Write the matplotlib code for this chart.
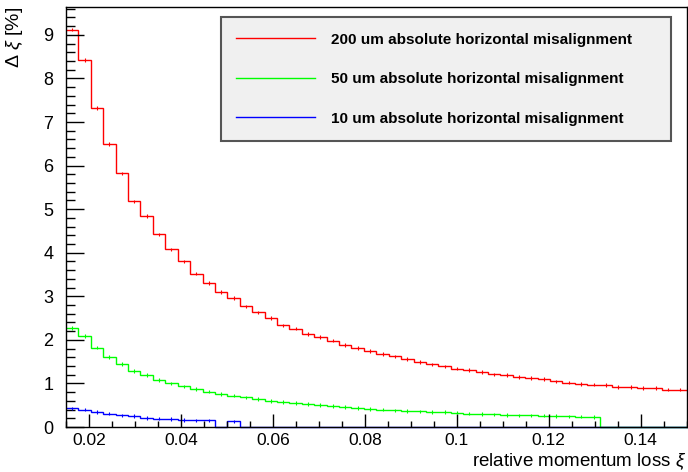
import numpy as np
import matplotlib

matplotlib.use("Agg")
import matplotlib.pyplot as plt
from matplotlib.ticker import FuncFormatter, MultipleLocator

# histogram binning: 50 bins starting at xi = 0.015
bin_lo = 0.015
bin_width = 0.0027
n_bins = 50

red_vals = [9.12, 8.42, 7.32, 6.49, 5.82, 5.18, 4.84, 4.42, 4.08, 3.80,
            3.52, 3.30, 3.10, 2.96, 2.77, 2.63, 2.50, 2.33, 2.26, 2.14,
            2.07, 1.98, 1.88, 1.81, 1.74, 1.68, 1.62, 1.56, 1.49, 1.44,
            1.39, 1.34, 1.31, 1.26, 1.21, 1.19, 1.15, 1.13, 1.10, 1.05,
            1.02, 0.99, 0.97, 0.96, 0.92, 0.92, 0.895, 0.895, 0.86, 0.86]
green_vals = [2.27, 2.09, 1.82, 1.61, 1.45, 1.29, 1.19, 1.08, 1.00, 0.93,
              0.87, 0.81, 0.76, 0.72, 0.68, 0.64, 0.60, 0.57, 0.55, 0.53,
              0.50, 0.48, 0.46, 0.44, 0.41, 0.40, 0.38, 0.37, 0.36, 0.34,
              0.34, 0.33, 0.31, 0.30, 0.29, 0.28, 0.27, 0.27, 0.26, 0.25,
              0.245, 0.24, 0.23, 0, 0, 0, 0, 0, 0, 0]
blue_vals = [0.43, 0.40, 0.34, 0.31, 0.27, 0.25, 0.21, 0.19, 0.18, 0.16,
             0.155, 0.15, 0, 0.13, 0, 0, 0, 0, 0, 0,
             0, 0, 0, 0, 0, 0, 0, 0, 0, 0,
             0, 0, 0, 0, 0, 0, 0, 0, 0, 0,
             0, 0, 0, 0, 0, 0, 0, 0, 0, 0]
err_size = 0.04

labels = ["200 um absolute horizontal misalignment",
          "50 um absolute horizontal misalignment",
          "10 um absolute horizontal misalignment"]
colors = ["#ff0000", "#00ff00", "#0000ff"]

plt.rcParams["font.family"] = ["Liberation Sans", "DejaVu Sans"]
plt.rcParams["mathtext.fontset"] = "custom"
plt.rcParams["mathtext.rm"] = "Liberation Sans"
plt.rcParams["mathtext.it"] = "Liberation Sans:italic"

edges = bin_lo + bin_width * np.arange(n_bins + 1)
centers = 0.5 * (edges[:-1] + edges[1:])

fig = plt.figure(figsize=(6.88, 4.72), dpi=100)
ax = fig.add_axes([0.0959, 0.0953, 0.9021, 0.8899])

for vals, color, label in zip([red_vals, green_vals, blue_vals], colors, labels):
    vals = np.asarray(vals, dtype=float)
    ax.stairs(vals, edges, baseline=None, color=color, lw=1.0, label=label, clip_on=False)
    nz = vals > 0
    ax.errorbar(centers[nz], vals[nz], yerr=err_size, fmt="none", ecolor=color, elinewidth=0.8)

ax.set_xlim(0.015, 0.15)
ax.set_ylim(0, 9.64)

ax.xaxis.set_major_locator(MultipleLocator(0.02))
ax.xaxis.set_minor_locator(MultipleLocator(0.005))
ax.yaxis.set_major_locator(MultipleLocator(1))
ax.yaxis.set_minor_locator(MultipleLocator(0.2))
ax.xaxis.set_major_formatter(FuncFormatter(lambda v, p: f"{v:g}"))
ax.tick_params(axis="both", which="both", direction="in", top=False, right=False, labelsize=13)
ax.tick_params(axis="x", which="major", labelsize=12.5)
ax.tick_params(axis="y", which="major", length=13, width=1, pad=9)
ax.tick_params(axis="y", which="minor", length=6.5, width=1)
ax.tick_params(axis="x", which="major", length=9.4, width=1, pad=4)
ax.tick_params(axis="x", which="minor", length=4.3, width=1)
for spine in ax.spines.values():
    spine.set_linewidth(1.0)

ax.set_xlabel(r"relative momentum loss $\xi$", fontsize=13.5, loc="right")
ax.xaxis.set_label_coords(1.0, -0.058)
ax.set_ylabel(r"$\Delta\ \xi$ [%]", fontsize=14, loc="top")
ax.yaxis.set_label_coords(-0.066, 1.0)

leg = ax.legend(handles=[plt.Line2D([], [], color=c, lw=1.0) for c in colors], labels=labels,
                loc="upper left", bbox_to_anchor=(0.2492, 0.9755, 0.725, 0.0), mode="expand",
                borderaxespad=0, prop={"weight": "bold", "size": 11},
                handlelength=5.15, handletextpad=1.08, labelspacing=1.67, borderpad=1.0,
                fancybox=False, framealpha=1.0)
leg.get_frame().set_facecolor("#f0f0f0")
leg.get_frame().set_edgecolor("#555555")
leg.get_frame().set_linewidth(1.5)

fig.savefig("out.png", dpi=100)
